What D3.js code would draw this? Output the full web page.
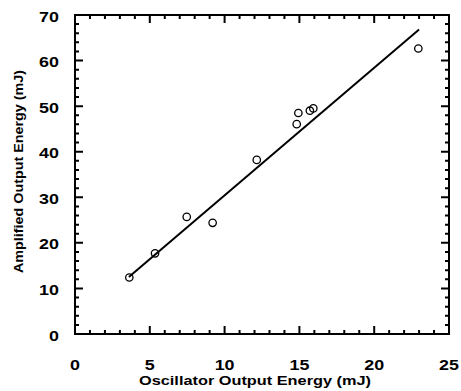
<!DOCTYPE html>
<html>
<head>
<meta charset="utf-8">
<script src="https://cdn.jsdelivr.net/npm/d3@7"></script>
<style>
  body { margin: 0; background: #fff; }
  text.lbl { font-family: "Liberation Sans", Arial, sans-serif; font-weight: bold; fill: #000; }
</style>
</head>
<body>
<svg id="canvas" width="461" height="391"></svg>
<script>
// measured points (oscillator mJ -> amplified mJ)
let oscEnergy = [3.63, 5.35, 7.47, 9.2, 12.15, 14.82, 14.93, 15.7, 15.93, 22.95]
let ampEnergy = [12.4, 17.7, 25.7, 24.4, 38.2, 46.05, 48.5, 49.0, 49.5, 62.65]

// fitted line end points
let fitX = [3.6, 23.0]
let fitY = [12.5, 66.8]

let xTicks = [0, 5, 10, 15, 20, 25]
let yTicks = [0, 10, 20, 30, 40, 50, 60, 70]
let xMinor = d3.range(0, 26, 1)
let yMinor = d3.range(0, 71, 2)

let svg = d3.select('#canvas')

let pLeft = 75, pRight = 449, pTop = 15, pBottom = 334

let x = d3.scaleLinear().domain([0, 25]).range([pLeft, pRight])
let y = d3.scaleLinear().domain([0, 70]).range([pBottom, pTop])

// frame and inward ticks on all four sides as one path
let xLen = d => (xTicks.includes(d) ? 8 : 4)
let yLen = d => (yTicks.includes(d) ? 8 : 4)
let fp = d3.path()
fp.rect(pLeft, pTop, pRight - pLeft, pBottom - pTop)
xMinor.forEach(d => {
  fp.moveTo(x(d), pBottom); fp.lineTo(x(d), pBottom - xLen(d))
  fp.moveTo(x(d), pTop); fp.lineTo(x(d), pTop + xLen(d))
})
yMinor.forEach(d => {
  fp.moveTo(pLeft, y(d)); fp.lineTo(pLeft + yLen(d), y(d))
  fp.moveTo(pRight, y(d)); fp.lineTo(pRight - yLen(d), y(d))
})
svg.append('path')
  .attr('d', fp.toString())
  .attr('fill', 'none').attr('stroke', '#000').attr('stroke-width', 2)

// tick labels (the original type is stretched horizontally)
svg.selectAll('text.xl').data(xTicks).enter().append('text')
  .attr('class', 'lbl xl')
  .attr('transform', d => 'translate(' + x(d) + ',370) scale(1.28,1)')
  .attr('text-anchor', 'middle')
  .style('font-size', '14px')
  .text(d => d)

svg.selectAll('text.yl').data(yTicks).enter().append('text')
  .attr('class', 'lbl yl')
  .attr('transform', d => 'translate(59,' + (y(d) + 6.5) + ') scale(1.28,1)')
  .attr('text-anchor', 'end')
  .style('font-size', '14px')
  .text(d => d)

// axis titles
svg.append('text')
  .attr('class', 'lbl')
  .attr('x', 139).attr('y', 385)
  .attr('textLength', 232).attr('lengthAdjust', 'spacingAndGlyphs')
  .style('font-size', '12.5px')
  .text('Oscillator Output Energy (mJ)')

svg.append('text')
  .attr('class', 'lbl')
  .attr('transform', 'translate(23,273) rotate(-90)')
  .attr('textLength', 203).attr('lengthAdjust', 'spacingAndGlyphs')
  .style('font-size', '12.5px')
  .text('Amplified Output Energy (mJ)')

// fit line
let line = d3.line().x(d => x(d[0])).y(d => y(d[1]))
svg.append('path')
  .attr('d', line(d3.zip(fitX, fitY)))
  .attr('fill', 'none').attr('stroke', '#000').attr('stroke-width', 2)

// data points
svg.selectAll('circle').data(d3.zip(oscEnergy, ampEnergy)).enter().append('circle')
  .attr('cx', d => x(d[0])).attr('cy', d => y(d[1]))
  .attr('r', 3.7)
  .attr('fill', 'none').attr('stroke', '#000').attr('stroke-width', 1.3)
</script>
</body>
</html>
